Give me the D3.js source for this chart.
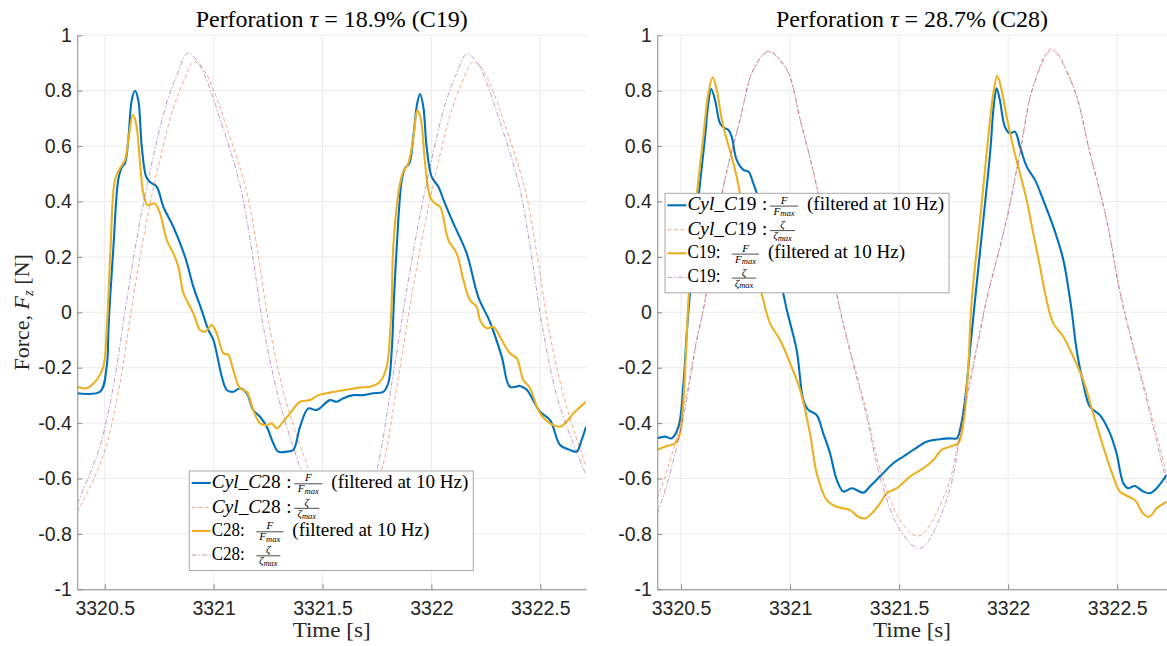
<!DOCTYPE html>
<html><head><meta charset="utf-8">
<script src="https://cdn.jsdelivr.net/npm/d3@7"></script>
<style>body{margin:0;background:#fff}svg{display:block}</style>
</head><body>
<svg id="c" width="1167" height="646"></svg>
<script>
// ---------------- DATA ----------------
const xTicks = [3320.5, 3321, 3321.5, 3322, 3322.5];
const yTicks = [-1, -0.8, -0.6, -0.4, -0.2, 0, 0.2, 0.4, 0.6, 0.8, 1];
const leftXLim = [3320.374, 3322.710];
const rightXLim = [3320.391, 3322.727];
const yLim = [-1, 1];
const panelTitles = ['18.9% (C19)', '28.7% (C28)'];
const legendCases = ['C28', 'C19'];

// Left panel: Cyl_C28 force (blue)
const leftCylForce = [[3320.374,-0.292],[3320.478,-0.287],[3320.509,-0.196],[3320.517,-0.064],[3320.524,0.044],[3320.540,0.237],[3320.562,0.478],[3320.578,0.523],[3320.593,0.538],[3320.608,0.622],[3320.624,0.766],[3320.639,0.800],[3320.654,0.766],[3320.670,0.598],[3320.690,0.490],[3320.708,0.470],[3320.739,0.453],[3320.769,0.381],[3320.815,0.309],[3320.869,0.200],[3320.907,0.092],[3320.945,0.008],[3320.976,-0.064],[3320.999,-0.100],[3321.060,-0.280],[3321.090,-0.287],[3321.121,-0.274],[3321.152,-0.292],[3321.182,-0.353],[3321.213,-0.377],[3321.244,-0.413],[3321.274,-0.473],[3321.297,-0.503],[3321.336,-0.503],[3321.366,-0.497],[3321.397,-0.413],[3321.435,-0.347],[3321.473,-0.353],[3321.534,-0.317],[3321.565,-0.323],[3321.596,-0.310],[3321.641,-0.299],[3321.687,-0.299],[3321.733,-0.292],[3321.779,-0.287],[3321.802,-0.256],[3321.818,-0.136],[3321.828,0.044],[3321.841,0.237],[3321.864,0.478],[3321.879,0.520],[3321.899,0.538],[3321.917,0.634],[3321.935,0.755],[3321.948,0.788],[3321.963,0.742],[3321.978,0.598],[3322.001,0.490],[3322.032,0.453],[3322.062,0.393],[3322.101,0.321],[3322.162,0.213],[3322.215,0.056],[3322.269,-0.035],[3322.323,-0.160],[3322.361,-0.269],[3322.407,-0.266],[3322.438,-0.280],[3322.499,-0.359],[3322.545,-0.389],[3322.591,-0.479],[3322.636,-0.497],[3322.667,-0.503],[3322.690,-0.461],[3322.710,-0.413]];
// Left panel: Cyl_C28 zeta (orange dashed)
const leftCylZeta = [[3320.374,-0.72],[3320.451,-0.60],[3320.506,-0.485],[3320.552,-0.33],[3320.583,-0.196],[3320.607,-0.07],[3320.629,0.044],[3320.690,0.32],[3320.759,0.57],[3320.814,0.735],[3320.858,0.826],[3320.910,0.904],[3320.956,0.874],[3320.996,0.81],[3321.057,0.676],[3321.149,0.444],[3321.204,0.21],[3321.256,-0.05],[3321.332,-0.32],[3321.424,-0.54],[3321.516,-0.73],[3321.608,-0.81],[3321.677,-0.77],[3321.732,-0.65],[3321.778,-0.55],[3321.845,-0.25],[3321.906,0.044],[3321.971,0.32],[3322.040,0.57],[3322.095,0.735],[3322.139,0.826],[3322.191,0.904],[3322.237,0.874],[3322.277,0.81],[3322.338,0.676],[3322.430,0.444],[3322.485,0.21],[3322.537,-0.05],[3322.613,-0.32],[3322.710,-0.557]];
// Left panel: C28 force (yellow)
const leftPlateForce = [[3320.374,-0.269],[3320.417,-0.274],[3320.463,-0.244],[3320.494,-0.196],[3320.509,-0.064],[3320.517,0.060],[3320.527,0.237],[3320.547,0.478],[3320.570,0.520],[3320.593,0.550],[3320.608,0.620],[3320.629,0.712],[3320.644,0.682],[3320.662,0.538],[3320.677,0.430],[3320.696,0.387],[3320.716,0.391],[3320.731,0.393],[3320.754,0.357],[3320.785,0.261],[3320.815,0.213],[3320.838,0.165],[3320.861,0.069],[3320.884,0.032],[3320.907,-0.004],[3320.938,-0.064],[3320.961,-0.070],[3320.991,-0.046],[3321.014,-0.076],[3321.045,-0.148],[3321.068,-0.154],[3321.090,-0.208],[3321.121,-0.274],[3321.152,-0.287],[3321.182,-0.353],[3321.213,-0.401],[3321.244,-0.407],[3321.267,-0.401],[3321.290,-0.419],[3321.313,-0.401],[3321.351,-0.365],[3321.397,-0.323],[3321.443,-0.317],[3321.481,-0.299],[3321.534,-0.290],[3321.580,-0.283],[3321.626,-0.278],[3321.672,-0.271],[3321.718,-0.269],[3321.764,-0.251],[3321.795,-0.196],[3321.810,-0.076],[3321.818,0.044],[3321.825,0.237],[3321.853,0.453],[3321.871,0.508],[3321.894,0.538],[3321.917,0.630],[3321.935,0.728],[3321.951,0.700],[3321.971,0.538],[3321.994,0.417],[3322.017,0.393],[3322.040,0.381],[3322.078,0.261],[3322.116,0.213],[3322.147,0.117],[3322.177,0.044],[3322.208,0.020],[3322.223,-0.028],[3322.254,-0.058],[3322.284,-0.052],[3322.323,-0.100],[3322.361,-0.148],[3322.392,-0.166],[3322.422,-0.244],[3322.453,-0.274],[3322.499,-0.365],[3322.545,-0.401],[3322.591,-0.413],[3322.621,-0.395],[3322.652,-0.365],[3322.710,-0.323]];
// Left panel: C28 zeta (purple dash-dot)
const leftPlateZeta = [[3320.374,-0.69],[3320.423,-0.60],[3320.478,-0.485],[3320.524,-0.33],[3320.555,-0.196],[3320.579,-0.07],[3320.601,0.044],[3320.662,0.33],[3320.731,0.59],[3320.786,0.76],[3320.831,0.855],[3320.882,0.936],[3320.928,0.905],[3320.968,0.839],[3321.029,0.70],[3321.121,0.46],[3321.176,0.22],[3321.228,-0.05],[3321.305,-0.33],[3321.397,-0.56],[3321.489,-0.76],[3321.580,-0.85],[3321.649,-0.80],[3321.704,-0.68],[3321.750,-0.57],[3321.818,-0.256],[3321.879,0.044],[3321.943,0.33],[3322.012,0.59],[3322.067,0.76],[3322.112,0.855],[3322.163,0.932],[3322.209,0.905],[3322.249,0.839],[3322.310,0.70],[3322.402,0.46],[3322.457,0.22],[3322.509,-0.05],[3322.586,-0.33],[3322.710,-0.587]];

// Right panel: Cyl_C19 force (blue)
const rightCylForce = [[3320.391,-0.455],[3320.427,-0.449],[3320.457,-0.455],[3320.488,-0.413],[3320.511,-0.256],[3320.526,-0.076],[3320.538,0.044],[3320.573,0.360],[3320.610,0.634],[3320.625,0.755],[3320.638,0.806],[3320.656,0.766],[3320.679,0.682],[3320.702,0.664],[3320.717,0.658],[3320.732,0.634],[3320.755,0.550],[3320.786,0.514],[3320.809,0.508],[3320.831,0.466],[3320.847,0.430],[3320.908,0.250],[3320.968,0.070],[3320.985,0.008],[3321.030,-0.136],[3321.061,-0.317],[3321.084,-0.353],[3321.122,-0.371],[3321.152,-0.437],[3321.183,-0.509],[3321.214,-0.605],[3321.244,-0.647],[3321.283,-0.635],[3321.336,-0.651],[3321.366,-0.629],[3321.412,-0.593],[3321.473,-0.545],[3321.519,-0.521],[3321.565,-0.497],[3321.626,-0.467],[3321.687,-0.458],[3321.733,-0.455],[3321.764,-0.455],[3321.779,-0.425],[3321.802,-0.317],[3321.825,-0.136],[3321.848,0.044],[3321.886,0.333],[3321.917,0.574],[3321.935,0.755],[3321.947,0.809],[3321.962,0.766],[3321.985,0.670],[3322.008,0.646],[3322.031,0.652],[3322.054,0.598],[3322.085,0.526],[3322.123,0.478],[3322.161,0.405],[3322.207,0.309],[3322.253,0.189],[3322.275,0.092],[3322.291,0.008],[3322.314,-0.136],[3322.344,-0.256],[3322.375,-0.341],[3322.421,-0.371],[3322.467,-0.437],[3322.497,-0.509],[3322.528,-0.617],[3322.550,-0.635],[3322.581,-0.627],[3322.619,-0.647],[3322.650,-0.653],[3322.681,-0.635],[3322.727,-0.587]];
// Right panel: Cyl_C19 zeta (orange dashed)
const rightCylZeta = [[3320.391,-0.67],[3320.436,-0.57],[3320.511,-0.35],[3320.573,-0.09],[3320.602,0.01],[3320.694,0.453],[3320.770,0.694],[3320.831,0.875],[3320.900,0.942],[3320.985,0.877],[3321.046,0.697],[3321.122,0.456],[3321.229,0.012],[3321.351,-0.36],[3321.412,-0.565],[3321.504,-0.75],[3321.588,-0.808],[3321.718,-0.64],[3321.794,-0.36],[3321.871,-0.065],[3321.901,0.05],[3321.993,0.338],[3322.054,0.578],[3322.115,0.818],[3322.199,0.952],[3322.298,0.818],[3322.375,0.578],[3322.451,0.338],[3322.520,0.05],[3322.635,-0.30],[3322.727,-0.585]];
// Right panel: C19 force (yellow)
const rightPlateForce = [[3320.391,-0.497],[3320.434,-0.483],[3320.473,-0.473],[3320.495,-0.437],[3320.511,-0.317],[3320.523,-0.136],[3320.534,0.044],[3320.564,0.360],[3320.602,0.634],[3320.625,0.790],[3320.645,0.848],[3320.664,0.802],[3320.687,0.694],[3320.710,0.622],[3320.732,0.562],[3320.755,0.490],[3320.770,0.430],[3320.825,0.230],[3320.877,0.044],[3320.908,-0.040],[3320.954,-0.100],[3321.000,-0.184],[3321.046,-0.280],[3321.091,-0.437],[3321.122,-0.581],[3321.168,-0.678],[3321.214,-0.702],[3321.275,-0.714],[3321.313,-0.738],[3321.344,-0.744],[3321.382,-0.720],[3321.412,-0.690],[3321.443,-0.653],[3321.489,-0.635],[3321.550,-0.593],[3321.611,-0.563],[3321.657,-0.533],[3321.695,-0.497],[3321.733,-0.485],[3321.771,-0.473],[3321.787,-0.437],[3321.802,-0.353],[3321.817,-0.196],[3321.833,0.044],[3321.871,0.333],[3321.901,0.574],[3321.932,0.790],[3321.950,0.854],[3321.970,0.802],[3321.993,0.706],[3322.023,0.598],[3322.054,0.502],[3322.085,0.405],[3322.115,0.285],[3322.146,0.165],[3322.176,0.044],[3322.207,-0.040],[3322.253,-0.088],[3322.298,-0.160],[3322.344,-0.244],[3322.390,-0.365],[3322.436,-0.485],[3322.482,-0.593],[3322.512,-0.647],[3322.550,-0.665],[3322.581,-0.678],[3322.619,-0.726],[3322.647,-0.738],[3322.681,-0.708],[3322.727,-0.684]];
// Right panel: C19 zeta (purple dash-dot)
const rightPlateZeta = [[3320.391,-0.726],[3320.436,-0.62],[3320.511,-0.377],[3320.573,-0.10],[3320.602,0.007],[3320.694,0.453],[3320.770,0.694],[3320.831,0.875],[3320.900,0.94],[3320.985,0.875],[3321.046,0.694],[3321.122,0.453],[3321.229,0.007],[3321.351,-0.377],[3321.412,-0.593],[3321.504,-0.786],[3321.596,-0.852],[3321.718,-0.677],[3321.794,-0.377],[3321.871,-0.075],[3321.901,0.044],[3321.993,0.333],[3322.054,0.574],[3322.115,0.814],[3322.199,0.945],[3322.298,0.814],[3322.375,0.574],[3322.451,0.333],[3322.520,0.044],[3322.635,-0.317],[3322.727,-0.617]];

// ---------------- DRAW ----------------
const SERIF = '"Liberation Serif", "DejaVu Serif", serif';
const SANS = '"Liberation Sans", Arial, sans-serif';
const svg = d3.select('#c');
const plotTop = 35.3, plotBottom = 589.3;
const styles = [
  {color:'#0072BD', width:2.1, dash:null, op:1},
  {color:'#D95319', width:0.8, dash:'4,2.5', op:0.6},
  {color:'#EDB120', width:2.1, dash:null, op:1},
  {color:'#7E2F8E', width:0.8, dash:'5,2,1.5,2', op:0.6}
];
const panels = [
  {x0:77.3, x1:586, xlim:leftXLim, title:panelTitles[0], name:legendCases[0],
   series:[leftCylForce,leftCylZeta,leftPlateForce,leftPlateZeta], leg:{x:189.3,y:471}, ylabel:true},
  {x0:657.3, x1:1166.7, xlim:rightXLim, title:panelTitles[1], name:legendCases[1],
   series:[rightCylForce,rightCylZeta,rightPlateForce,rightPlateZeta], leg:{x:665,y:193.3}, ylabel:false}
];

function drawFrac(g, x, w, base, sym) {
  const axisY = base - 4.2;
  const num = g.append('text').attr('y', axisY - 2.6).attr('font-style','italic').attr('font-size',11).text(sym);
  const den = g.append('text').attr('y', axisY + 8.6).attr('font-size',11);
  den.append('tspan').attr('font-style','italic').text(sym);
  den.append('tspan').attr('font-style','italic').attr('font-size',8.5).attr('dy',1.6).text('max');
  const nw = num.node().getComputedTextLength();
  const dw = den.node().getComputedTextLength();
  num.attr('x', x + (w - nw) / 2);
  den.attr('x', x + (w - dw) / 2);
  g.append('line').attr('x1', x).attr('x2', x + w).attr('y1', axisY).attr('y2', axisY)
    .attr('stroke', '#000').attr('stroke-width', 0.7);
}

panels.forEach((p, pi) => {
  const x = d3.scaleLinear().domain(p.xlim).range([p.x0, p.x1]);
  const y = d3.scaleLinear().domain(yLim).range([plotBottom, plotTop]);
  const g = svg.append('g');

  // grid
  g.append('g').selectAll('line').data(xTicks).join('line')
    .attr('x1', d => x(d)).attr('x2', d => x(d)).attr('y1', plotTop).attr('y2', plotBottom)
    .attr('stroke', '#ebebeb').attr('stroke-width', 1);
  g.append('g').selectAll('line').data(yTicks).join('line')
    .attr('y1', d => y(d)).attr('y2', d => y(d)).attr('x1', p.x0).attr('x2', p.x1)
    .attr('stroke', '#ebebeb').attr('stroke-width', 1);

  // lines
  const cid = 'clip' + pi;
  svg.append('clipPath').attr('id', cid).append('rect')
    .attr('x', p.x0).attr('y', plotTop).attr('width', p.x1 - p.x0).attr('height', plotBottom - plotTop);
  const line = d3.line().x(d => x(d[0])).y(d => y(d[1])).curve(d3.curveCatmullRom.alpha(0.5));
  const lg = g.append('g').attr('clip-path', `url(#${cid})`);
  p.series.forEach((s, i) => {
    const st = styles[i];
    lg.append('path').attr('d', line(s)).attr('fill', 'none')
      .attr('stroke', st.color).attr('stroke-width', st.width)
      .attr('stroke-dasharray', st.dash).attr('stroke-opacity', st.op)
      .attr('stroke-linejoin', 'round');
  });

  // axes
  const axColor = '#8a8a8a';
  const xa = g.append('g').attr('transform', `translate(0,${plotBottom})`)
    .call(d3.axisBottom(x).tickValues(xTicks).tickSizeInner(-5).tickSizeOuter(0).tickPadding(12)
      .tickFormat(d => String(d)));
  const ya = g.append('g').attr('transform', `translate(${p.x0},0)`)
    .call(d3.axisLeft(y).tickValues(yTicks).tickSizeInner(-5).tickSizeOuter(0).tickPadding(5.5)
      .tickFormat(d => String(+d.toFixed(1))));
  [xa, ya].forEach(a => {
    a.select('.domain').attr('stroke', axColor);
    a.selectAll('.tick line').attr('stroke', axColor);
    a.selectAll('.tick text').attr('fill', '#262626').attr('font-family', SANS).attr('font-size', 19.5);
  });
  xa.attr('font-family', SANS);
  ya.attr('font-family', SANS);

  // title
  const cx = (p.x0 + p.x1) / 2;
  const t = g.append('text').attr('x', cx).attr('y', 27).attr('text-anchor', 'middle')
    .attr('font-family', SERIF).attr('font-size', 23).attr('fill', '#000')
    .attr('textLength', 272).attr('lengthAdjust', 'spacingAndGlyphs');
  t.append('tspan').text('Perforation ');
  t.append('tspan').attr('font-style', 'italic').text('τ');
  t.append('tspan').text(' = ' + p.title);

  // x label
  g.append('text').attr('x', cx).attr('y', 637).attr('text-anchor', 'middle')
    .attr('font-family', SERIF).attr('font-size', 22).attr('fill', '#262626')
    .attr('textLength', 78).attr('lengthAdjust', 'spacingAndGlyphs').text('Time [s]');

  // y label
  if (p.ylabel) {
    const yl = g.append('text').attr('transform', `translate(29,${(plotTop + plotBottom) / 2}) rotate(-90)`)
      .attr('text-anchor', 'middle').attr('font-family', SERIF).attr('font-size', 22).attr('fill', '#262626');
    yl.append('tspan').text('Force, ');
    yl.append('tspan').attr('font-style', 'italic').text('F');
    yl.append('tspan').attr('font-style', 'italic').attr('font-size', 15).attr('dy', 4).text('z');
    yl.append('tspan').attr('dy', -4).text(' [N]');
  }

  // legend
  const lx = p.leg.x, ly = p.leg.y, lw = 284, lh = 99.5;
  const L = g.append('g').attr('font-family', SERIF).attr('font-size', 19).attr('fill', '#000');
  L.append('rect').attr('x', lx).attr('y', ly).attr('width', lw).attr('height', lh)
    .attr('fill', '#fff').attr('stroke', '#a8a8a8').attr('stroke-width', 1);
  const bases = [17, 41.5, 65, 89];
  const digits = p.name.slice(1);
  const rows = [
    {cyl:true, sym:'F', tail:'(filtered at 10 Hz)'},
    {cyl:true, sym:'ζ', tail:''},
    {cyl:false, sym:'F', tail:'(filtered at 10 Hz)'},
    {cyl:false, sym:'ζ', tail:''}
  ];
  rows.forEach((r, i) => {
    const base = ly + bases[i];
    const st = styles[i];
    L.append('line').attr('x1', lx + 2.4).attr('x2', lx + 21.4).attr('y1', base - 5).attr('y2', base - 5)
      .attr('stroke', st.color).attr('stroke-width', st.width).attr('stroke-dasharray', st.dash)
      .attr('stroke-opacity', st.op);
    const tx = lx + 22.4;
    const te = L.append('text').attr('x', tx).attr('y', base).attr('lengthAdjust', 'spacingAndGlyphs');
    let fx, fw, tailX;
    if (r.cyl) {
      te.append('tspan').attr('font-style', 'italic').text('Cyl');
      te.append('tspan').text('_');
      te.append('tspan').attr('font-style', 'italic').text('C');
      te.append('tspan').text(digits);
      te.attr('textLength', 69);
      L.append('text').attr('x', lx + 97).attr('y', base).text(':');
      fx = lx + 105; fw = r.sym === 'F' ? 28 : 25; tailX = lx + 142;
    } else {
      te.text(p.name + ':').attr('textLength', 33);
      fx = lx + 67; fw = r.sym === 'F' ? 27 : 24; tailX = lx + 103;
    }
    drawFrac(L, fx, fw, base, r.sym);
    if (r.tail) {
      L.append('text').attr('x', tailX).attr('y', base)
        .attr('textLength', 137).attr('lengthAdjust', 'spacingAndGlyphs').text(r.tail);
    }
  });
});
</script>
</body></html>
